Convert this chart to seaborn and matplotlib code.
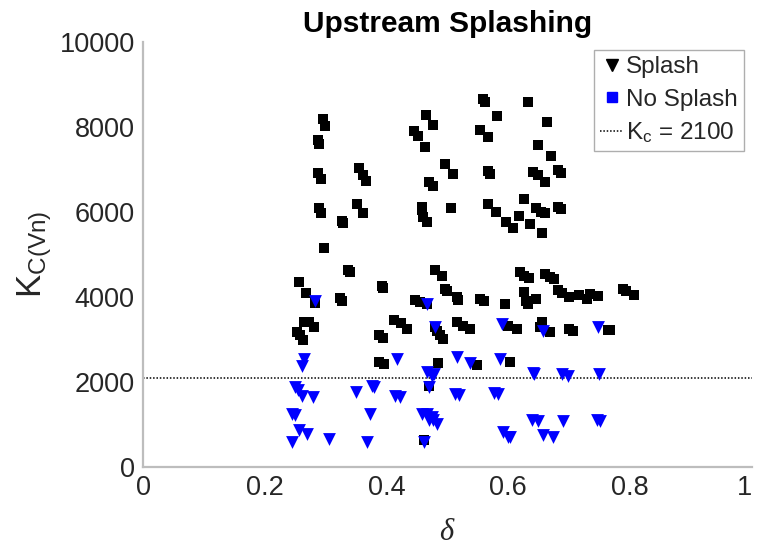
import matplotlib
matplotlib.use("Agg")
import matplotlib.pyplot as plt
from matplotlib.lines import Line2D
import seaborn as sns
import pandas as pd

# Splash cases: (delta, K_C(Vn))
splash_delta = [
    0.295, 0.299, 0.287, 0.289, 0.287, 0.292, 0.289, 0.293, 0.298, 0.327,
    0.328, 0.354, 0.361, 0.366, 0.352, 0.361, 0.337, 0.340, 0.256, 0.268,
    0.283, 0.324, 0.327, 0.264, 0.272, 0.281, 0.253, 0.263, 0.258, 0.392,
    0.395, 0.388, 0.394, 0.388, 0.396, 0.413, 0.424, 0.434, 0.465, 0.476,
    0.445, 0.452, 0.463, 0.469, 0.476, 0.458, 0.459, 0.460, 0.467, 0.496,
    0.510, 0.506, 0.480, 0.491, 0.496, 0.500, 0.447, 0.455, 0.466, 0.515,
    0.518, 0.479, 0.483, 0.488, 0.493, 0.515, 0.526, 0.537, 0.485, 0.548,
    0.469, 0.461, 0.558, 0.562, 0.581, 0.554, 0.566, 0.566, 0.570, 0.567,
    0.580, 0.596, 0.607, 0.554, 0.560, 0.595, 0.600, 0.614, 0.603, 0.633,
    0.664, 0.649, 0.670, 0.641, 0.649, 0.660, 0.682, 0.686, 0.626, 0.617,
    0.635, 0.646, 0.653, 0.660, 0.656, 0.682, 0.686, 0.619, 0.626, 0.634,
    0.660, 0.668, 0.675, 0.626, 0.629, 0.633, 0.645, 0.681, 0.689, 0.700,
    0.717, 0.729, 0.735, 0.748, 0.788, 0.794, 0.806, 0.655, 0.652, 0.668,
    0.700, 0.707, 0.764, 0.768,
]
splash_k = [
    8200, 8030, 7700, 7600, 6920, 6790, 6100, 5990, 5150, 5800,
    5750, 7030, 6870, 6740, 6190, 5990, 4640, 4580, 4350, 4100,
    3870, 3980, 3900, 3410, 3420, 3300, 3170, 3000, 3120, 4270,
    4220, 3100, 3030, 2480, 2420, 3470, 3390, 3260, 8280, 8050,
    7910, 7800, 7540, 6700, 6620, 6110, 6050, 5880, 5760, 7130,
    6900, 6090, 4640, 4500, 4180, 4140, 3930, 3880, 3840, 4000,
    3940, 3300, 3210, 3100, 3020, 3410, 3330, 3250, 2440, 2410,
    1900, 640, 8660, 8600, 8250, 7940, 7760, 6970, 6900, 6190,
    6010, 5760, 5630, 3960, 3900, 3840, 3330, 3250, 2480, 8580,
    8110, 7580, 7310, 6950, 6870, 6700, 7000, 6930, 6320, 5900,
    5720, 6090, 6010, 5970, 5510, 6130, 6070, 4580, 4500, 4440,
    4540, 4470, 4430, 4120, 3920, 3840, 3960, 4160, 4100, 4000,
    4040, 3960, 4080, 4020, 4180, 4140, 4040, 3420, 3290, 3170,
    3260, 3210, 3220, 3220,
]

# No-splash cases: (delta, K_C(Vn))
nosplash_delta = [
    0.283, 0.264, 0.261, 0.250, 0.254, 0.261, 0.280, 0.245, 0.250, 0.256,
    0.269, 0.245, 0.306, 0.368, 0.350, 0.379, 0.376, 0.373, 0.417, 0.414,
    0.422, 0.466, 0.474, 0.478, 0.469, 0.458, 0.466, 0.475, 0.470, 0.477,
    0.483, 0.461, 0.467, 0.480, 0.515, 0.537, 0.513, 0.519, 0.583, 0.576,
    0.586, 0.589, 0.591, 0.603, 0.600, 0.640, 0.643, 0.639, 0.649, 0.657,
    0.674, 0.657, 0.688, 0.698, 0.690, 0.747, 0.749, 0.745, 0.750,
]
nosplash_k = [
    3900, 2550, 2390, 1880, 1820, 1685, 1645, 1253, 1215, 863,
    785, 590, 660, 590, 1763, 1880, 1900, 1253, 2550, 1685,
    1645, 2230, 2150, 2200, 1880, 1255, 1240, 1175, 1100, 1100,
    1020, 600, 3830, 3290, 2585, 2444, 1730, 1700, 1710, 1750,
    2550, 3370, 820, 700, 700, 2210, 2190, 1100, 1080, 745,
    705, 3210, 2195, 2155, 1080, 3290, 2195, 1100, 1090,
]

k_critical = 2100
x_ticks = [0, 0.2, 0.4, 0.6, 0.8, 1]
x_tick_labels = ["0", "0.2", "0.4", "0.6", "0.8", "1"]
y_ticks = [0, 2000, 4000, 6000, 8000, 10000]
y_tick_labels = ["0", "2000", "4000", "6000", "8000", "10000"]

sns.set_style("white")
plt.rcParams["font.family"] = ["Liberation Sans", "DejaVu Sans"]
plt.rcParams["mathtext.fontset"] = "custom"
plt.rcParams["mathtext.rm"] = "Liberation Sans"
plt.rcParams["mathtext.it"] = "Liberation Serif:italic"

df_splash = pd.DataFrame({"delta": splash_delta, "K": splash_k})
df_nosplash = pd.DataFrame({"delta": nosplash_delta, "K": nosplash_k})

fig = plt.figure(figsize=(7.57, 5.47), dpi=100)
ax = fig.add_axes([0.189, 0.146, 0.804, 0.777])

sns.scatterplot(data=df_splash, x="delta", y="K", ax=ax, marker="s",
                color="black", s=46, linewidth=0, legend=False, zorder=3)
sns.scatterplot(data=df_nosplash, x="delta", y="K", ax=ax, marker="v",
                color="#0000ff", s=85, linewidth=0, legend=False, zorder=4)
ax.axhline(k_critical, color="black", linestyle=(0, (1, 1.2)), linewidth=1.1,
           zorder=2)

ax.set_xlim(0, 1)
ax.set_ylim(0, 10000)
ax.set_xticks(x_ticks)
ax.set_xticklabels(x_tick_labels)
ax.set_yticks(y_ticks)
ax.set_yticklabels(y_tick_labels)

for side in ("top", "right"):
    ax.spines[side].set_visible(False)
for side in ("left", "bottom"):
    ax.spines[side].set_color("#bdbdbd")
    ax.spines[side].set_linewidth(1.6)
ax.tick_params(axis="both", direction="in", length=5, width=0.8,
               color="#8a8a8a", labelsize=19.5, labelcolor="#262626", pad=6)
# keep the last x tick label inside the canvas
ax.get_xticklabels()[-1].set_horizontalalignment("right")

ax.set_xlabel(r"$\delta$", fontsize=22, color="#262626", labelpad=11)
ax.set_ylabel(r"K$_{\mathrm{C(Vn)}}$", fontsize=25, color="#262626",
              labelpad=4)
ax.set_title("Upstream Splashing", fontsize=21.5, fontweight="bold",
             color="black", pad=7)

handles = [
    Line2D([], [], linestyle="none", marker="v", color="black",
           markersize=9),
    Line2D([], [], linestyle="none", marker="s", color="#0000ff",
           markersize=6.5),
    Line2D([], [], linestyle=(0, (1, 1.2)), color="black", linewidth=1.1),
]
labels = ["Splash", "No Splash", r"K$_{\mathrm{c}}$ = 2100"]
leg = ax.legend(handles, labels, loc="upper right",
                bbox_to_anchor=(0.987, 0.981), fontsize=17.5, frameon=True,
                fancybox=False, edgecolor="#9a9a9a", handlelength=0.95,
                handletextpad=0.12, borderpad=0.25, labelspacing=0.42,
                borderaxespad=0.0)
leg.get_frame().set_linewidth(1.0)

fig.savefig("out.png", dpi=100)
